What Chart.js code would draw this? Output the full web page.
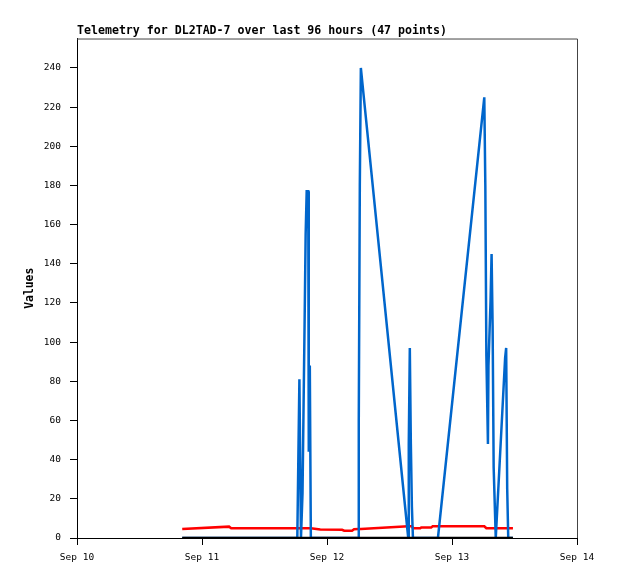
<!DOCTYPE html>
<html>
<head>
<meta charset="utf-8">
<script src="https://cdn.jsdelivr.net/npm/chart.js@4"></script>
<style>
  body { margin: 0; background: #fff; }
  canvas { display: block; }
</style>
</head>
<body>
<canvas id="grafico" width="618" height="579"></canvas>
<script>
// horas desde Sep 10 00:00
const horas = [20.2, 29.2, 29.6, 42.3, 42.5, 42.7, 43.0, 43.3, 43.5, 43.7, 43.9, 44.1, 44.4, 44.5, 44.7, 44.9,
  46.7, 50.9, 51.3, 52.8, 53.2, 54.0, 54.1, 54.3, 54.5, 63.6, 63.7, 63.9, 64.1, 64.3, 64.5, 65.9, 66.1,
  68.0, 68.3, 69.3, 78.2, 78.4, 78.6, 78.9, 79.0, 79.4, 79.6, 79.8, 80.0, 80.4, 82.2, 82.4, 82.6, 82.8, 83.7];
const serieAzul = [0, 0, 0, 0, 41, 81, 0, 23, 67, 110, 155, 177, 177, 44, 88, 0,
  0, 0, 0, 0, 0, 0, 60, 180, 240, 0, 48, 97, 48, 16, 0, 0, 0,
  0, 0, 0, 225, 180, 93, 48, 88, 121, 145, 108, 36, 0, 92, 97, 25, 0, 0];
const serieRoja = [4.6, 5.8, 5.0, 5.0, 5.0, 5.0, 5.0, 5.0, 5.0, 5.0, 5.0, 5.0, 5.0, 5.0, 5.0, 5.0,
  4.3, 4.2, 3.7, 3.7, 4.5, 4.6, 4.6, 4.6, 4.6, 6.0, 6.0, 6.0, 6.0, 6.0, 5.0, 5.0, 5.4,
  5.4, 6.0, 6.0, 6.0, 5.5, 5.0, 5.0, 5.0, 5.0, 5.0, 5.0, 5.0, 5.0, 5.0, 5.0, 5.0, 5.0, 5.0];
const serieNegra = horas.map(() => 0);
const etiquetasDias = ["Sep 10", "Sep 11", "Sep 12", "Sep 13", "Sep 14"];
const titulo = "Telemetry for DL2TAD-7 over last 96 hours (47 points)";

const puntos = arr => horas.map((h, i) => ({ x: h, y: arr[i] }));

const fuenteTicks = { family: "DejaVu Sans Mono", size: 9.5 };

const marco = {
  id: "marco",
  beforeDatasetsDraw(chart) {
    const { ctx, chartArea: a } = chart;
    ctx.save();
    ctx.strokeStyle = "#444";
    ctx.lineWidth = 1;
    ctx.beginPath();
    ctx.moveTo(a.left, a.top + 0.5);
    ctx.lineTo(a.right + 0.5, a.top + 0.5);
    ctx.lineTo(a.right + 0.5, a.bottom);
    ctx.stroke();
    ctx.restore();
  }
};

new Chart(document.getElementById("grafico"), {
  type: "line",
  data: {
    datasets: [
      { data: puntos(serieNegra), borderColor: "#000", borderWidth: 2.5, order: 0 },
      { data: puntos(serieAzul), borderColor: "#0066cc", borderWidth: 2.5, order: 1 },
      { data: puntos(serieRoja), borderColor: "#ff0000", borderWidth: 2.5, order: 2 }
    ]
  },
  options: {
    responsive: false,
    animation: false,
    devicePixelRatio: 1,
    elements: { point: { radius: 0 }, line: { tension: 0 } },
    layout: { padding: { left: 0, right: 41, top: 0, bottom: 0 } },
    plugins: {
      legend: { display: false },
      tooltip: { enabled: false },
      title: {
        display: true,
        text: titulo,
        align: "start",
        fullSize: false,
        color: "#000",
        font: { family: "DejaVu Sans Mono", size: 11.6, weight: "bold" },
        padding: { top: 24.2, bottom: 0.4 }
      }
    },
    scales: {
      x: {
        type: "linear",
        min: 0,
        max: 96,
        ticks: {
          stepSize: 24,
          color: "#000",
          font: fuenteTicks,
          padding: 7,
          maxRotation: 0,
          callback: v => etiquetasDias[v / 24]
        },
        grid: { drawOnChartArea: false, tickLength: 7, color: "#000" },
        border: { color: "#000", width: 1 },
        afterFit: s => { s.height = 41; }
      },
      y: {
        min: 0,
        max: 255,
        ticks: { stepSize: 20, color: "#000", font: fuenteTicks, padding: 9 },
        afterBuildTicks: s => { s.ticks = s.ticks.filter(t => t.value % 20 === 0); },
        grid: { drawOnChartArea: false, tickLength: 7, color: "#000" },
        border: { color: "#000", width: 1 },
        title: {
          display: true,
          text: "Values",
          color: "#000",
          font: { family: "DejaVu Sans Mono", size: 11.4, weight: "bold" },
          padding: { top: 23.5, bottom: 0 }
        },
        afterFit: s => { s.width = 77; }
      }
    }
  },
  plugins: [marco]
});
</script>
</body>
</html>
